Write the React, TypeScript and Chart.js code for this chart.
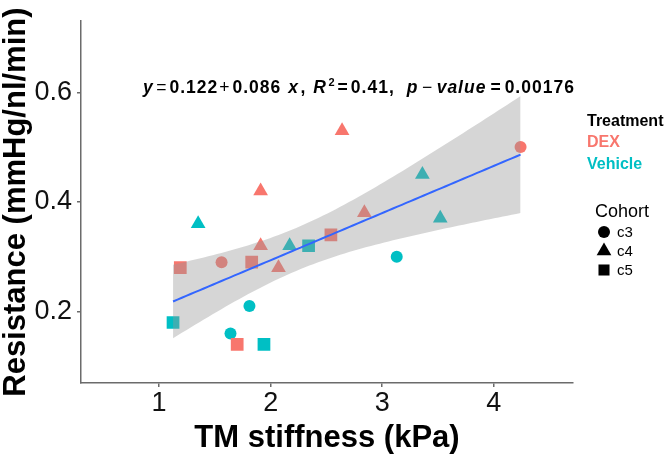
import React, { useEffect, useRef } from 'react';
import { Chart, registerables } from 'chart.js';

Chart.register(...registerables);

// ---- data ----
const stiffness = [1.91, 1.91, 1.56, 1.19, 1.83, 2.07, 1.70, 2.64, 4.24, 2.84, 2.54,
  1.35, 2.17, 1.81, 1.125, 1.64, 1.94, 3.36, 3.52, 2.34, 3.13];
const resistance = [0.42, 0.32, 0.29, 0.28, 0.29, 0.28, 0.14, 0.53, 0.50, 0.38, 0.34,
  0.36, 0.32, 0.21, 0.18, 0.16, 0.14, 0.45, 0.37, 0.32, 0.30];
const treatment = ['DEX', 'DEX', 'DEX', 'DEX', 'DEX', 'DEX', 'DEX', 'DEX', 'DEX', 'DEX', 'DEX',
  'Vehicle', 'Vehicle', 'Vehicle', 'Vehicle', 'Vehicle', 'Vehicle', 'Vehicle', 'Vehicle', 'Vehicle', 'Vehicle'];
const cohort = ['c4', 'c4', 'c3', 'c5', 'c5', 'c4', 'c5', 'c4', 'c3', 'c4', 'c5',
  'c4', 'c4', 'c3', 'c5', 'c3', 'c5', 'c4', 'c4', 'c5', 'c3'];

const treatmentLevels = ['DEX', 'Vehicle'];
const treatmentColors = ['#F8766D', '#00BFC4'];
const cohortLevels = ['c3', 'c4', 'c5'];
const cohortShapes = ['circle', 'triangle', 'rect'];
const cohortRadius = [6, 8.5, 9];
const legendRadius = [6, 8.5, 7.8];

const xTicks = [1, 2, 3, 4];
const yTicks = [0.2, 0.4, 0.6];
const xTitle = 'TM stiffness (kPa)';
const yTitle = 'Resistance (mmHg/nl/min)';
const legendTitle1 = 'Treatment';
const legendTitle2 = 'Cohort';
const T_975_DF19 = 2.093;

const FONT = '"Liberation Sans", Arial, sans-serif';

function fitLm() {
  const n = stiffness.length;
  const mx = stiffness.reduce((a, b) => a + b, 0) / n;
  const my = resistance.reduce((a, b) => a + b, 0) / n;
  let sxx = 0, sxy = 0;
  for (let i = 0; i < n; i++) {
    sxx += (stiffness[i] - mx) ** 2;
    sxy += (stiffness[i] - mx) * (resistance[i] - my);
  }
  const b = sxy / sxx;
  const a = my - b * mx;
  let sse = 0;
  for (let i = 0; i < n; i++) sse += (resistance[i] - a - b * stiffness[i]) ** 2;
  const s = Math.sqrt(sse / (n - 2));
  const xmin = Math.min(...stiffness), xmax = Math.max(...stiffness);
  const line: any[] = [], up: any[] = [], lo: any[] = [];
  for (let k = 0; k < 80; k++) {
    const x = xmin + (xmax - xmin) * k / 79;
    const yh = a + b * x;
    const se = s * Math.sqrt(1 / n + (x - mx) ** 2 / sxx);
    line.push({ x, y: yh });
    up.push({ x, y: yh + T_975_DF19 * se });
    lo.push({ x, y: yh - T_975_DF19 * se });
  }
  return { line, up, lo };
}

function drawShape(ctx: CanvasRenderingContext2D, shape: string, r: number, x: number, y: number) {
  ctx.beginPath();
  if (shape === 'circle') {
    ctx.arc(x, y, r, 0, Math.PI * 2);
  } else if (shape === 'triangle') {
    for (let k = 0; k < 3; k++) {
      const a = k * 2 * Math.PI / 3;
      const px = x + Math.sin(a) * r, py = y - Math.cos(a) * r;
      if (k === 0) ctx.moveTo(px, py); else ctx.lineTo(px, py);
    }
    ctx.closePath();
  } else {
    const s = Math.SQRT1_2 * r;
    ctx.rect(x - s, y - s, 2 * s, 2 * s);
  }
  ctx.fill();
}

const overlay = {
  id: 'overlay',
  afterDraw(chart: any) {
    const ctx = chart.ctx;
    const ca = chart.chartArea;
    ctx.save();
    ctx.fillStyle = '#000';
    // axis titles
    ctx.font = `bold 31px ${FONT}`;
    ctx.textAlign = 'center';
    ctx.textBaseline = 'alphabetic';
    ctx.fillText(xTitle, (ca.left + ca.right) / 2, 447);
    ctx.save();
    ctx.translate(25, (ca.top + ca.bottom) / 2);
    ctx.rotate(-Math.PI / 2);
    ctx.fillText(yTitle, 0, 0);
    ctx.restore();

    // equation: [text, weight/style, size, dy, gapBefore]
    const segs: [string, string, number, number, number][] = [
      ['y', 'italic bold', 17.5, 0, 0],
      ['=', 'normal', 17.5, 0, 2.5],
      ['0.122', 'bold', 17.5, 0, 2],
      ['+', 'normal', 17.5, 0, 1],
      ['0.086', 'bold', 17.5, 0, 2],
      ['x', 'italic bold', 17.5, 0, 7],
      [',', 'bold', 17.5, 0, 1.5],
      ['R', 'italic bold', 17.5, 0, 7],
      ['2', 'bold', 11, -7, 1.5],
      ['=', 'bold', 17.5, 0, 2],
      ['0.41,', 'bold', 17.5, 0, 2],
      ['p', 'italic bold', 17.5, 0, 12],
      ['\u2212', 'normal', 17.5, 0, 3.5],
      ['value', 'italic bold', 17.5, 0, 3.5],
      ['=', 'bold', 17.5, 0, 4],
      ['0.00176', 'bold', 17.5, 0, 3],
    ];
    ctx.textAlign = 'left';
    (ctx as any).letterSpacing = '1px';
    let ex = 143;
    for (const [t, w, sz, dy, gap] of segs) {
      ex += gap;
      ctx.font = `${w} ${sz}px ${FONT}`;
      ctx.fillText(t, ex, 93 + dy);
      ex += ctx.measureText(t).width;
    }
    (ctx as any).letterSpacing = '0px';

    // legend: treatment
    ctx.textBaseline = 'middle';
    ctx.font = `bold 16px ${FONT}`;
    ctx.fillStyle = '#000';
    ctx.fillText(legendTitle1, 587, 122);
    treatmentLevels.forEach((lv, i) => {
      ctx.fillStyle = treatmentColors[i];
      ctx.fillText(lv, 587, 143 + i * 22);
    });
    // legend: cohort
    ctx.fillStyle = '#000';
    ctx.font = `18px ${FONT}`;
    ctx.fillText(legendTitle2, 595, 212);
    ctx.font = `15px ${FONT}`;
    const ys = [232, 251, 270];
    cohortLevels.forEach((lv, i) => {
      ctx.fillStyle = '#000';
      drawShape(ctx, cohortShapes[i], legendRadius[i], 604, ys[i]);
      ctx.fillText(lv, 617, ys[i] + 1);
    });
    ctx.restore();
  },
};

export default function App() {
  const ref = useRef<HTMLCanvasElement>(null);
  useEffect(() => {
    if (!ref.current) return;
    const fit = fitLm();
    const pointSets: any[] = [];
    treatmentLevels.forEach((tl, ti) => {
      cohortLevels.forEach((cl, ci) => {
        const data: any[] = [];
        stiffness.forEach((x, i) => {
          if (treatment[i] === tl && cohort[i] === cl) data.push({ x, y: resistance[i] });
        });
        pointSets.push({
          type: 'scatter',
          label: `${tl} ${cl}`,
          data,
          pointStyle: cohortShapes[ci],
          pointRadius: cohortRadius[ci],
          pointBackgroundColor: treatmentColors[ti],
          pointBorderColor: treatmentColors[ti],
          pointBorderWidth: 0,
          order: 3,
        });
      });
    });
    const base = pointSets.length;
    const datasets = [
      ...pointSets,
      {
        type: 'line', label: 'upper', data: fit.up, showLine: true, pointRadius: 0,
        borderWidth: 0, borderColor: 'rgba(0,0,0,0)', backgroundColor: 'rgba(153,153,153,0.4)',
        fill: base + 1, order: 2, tension: 0,
      },
      {
        type: 'line', label: 'lower', data: fit.lo, showLine: true, pointRadius: 0,
        borderWidth: 0, borderColor: 'rgba(0,0,0,0)', fill: false, order: 2, tension: 0,
      },
      {
        type: 'line', label: 'fit', data: fit.line, showLine: true, pointRadius: 0,
        borderWidth: 2, borderColor: '#3366FF', fill: false, order: 1, tension: 0,
      },
    ];
    const axisColor = '#6b6b6b';
    const chart = new Chart(ref.current, {
      type: 'scatter',
      data: { datasets } as any,
      options: {
        animation: false,
        responsive: false,
        devicePixelRatio: 1,
        layout: { padding: { left: 0, top: 10, right: 93, bottom: 0 } },
        plugins: { legend: { display: false }, tooltip: { enabled: false } },
        scales: {
          x: {
            type: 'linear', min: 0.3, max: 4.71,
            afterFit: (s: any) => { s.height = 71; },
            afterBuildTicks: (s: any) => { s.ticks = xTicks.map((v) => ({ value: v })); },
            ticks: { font: { family: FONT, size: 27 }, color: '#111', padding: 0, callback: (v: any) => String(v) },
            grid: { drawOnChartArea: false, drawTicks: true, tickLength: 4, color: axisColor, lineWidth: 1.5 },
            border: { display: true, color: axisColor, width: 1.5 },
          },
          y: {
            type: 'linear', min: 0.0696, max: 0.7297,
            afterFit: (s: any) => { s.width = 81; },
            afterBuildTicks: (s: any) => { s.ticks = yTicks.map((v) => ({ value: v })); },
            ticks: { font: { family: FONT, size: 27 }, color: '#111', padding: 5, callback: (v: any) => Number(v).toFixed(1) },
            grid: { drawOnChartArea: false, drawTicks: true, tickLength: 4, color: axisColor, lineWidth: 1.5 },
            border: { display: true, color: axisColor, width: 1.5 },
          },
        },
      } as any,
      plugins: [overlay],
    });
    return () => chart.destroy();
  }, []);
  return (
    <div style={{ position: 'fixed', left: 0, top: 0, width: 666, height: 454, background: '#fff' }}>
      <canvas ref={ref} width={666} height={454} style={{ width: 666, height: 454 }} />
    </div>
  );
}
